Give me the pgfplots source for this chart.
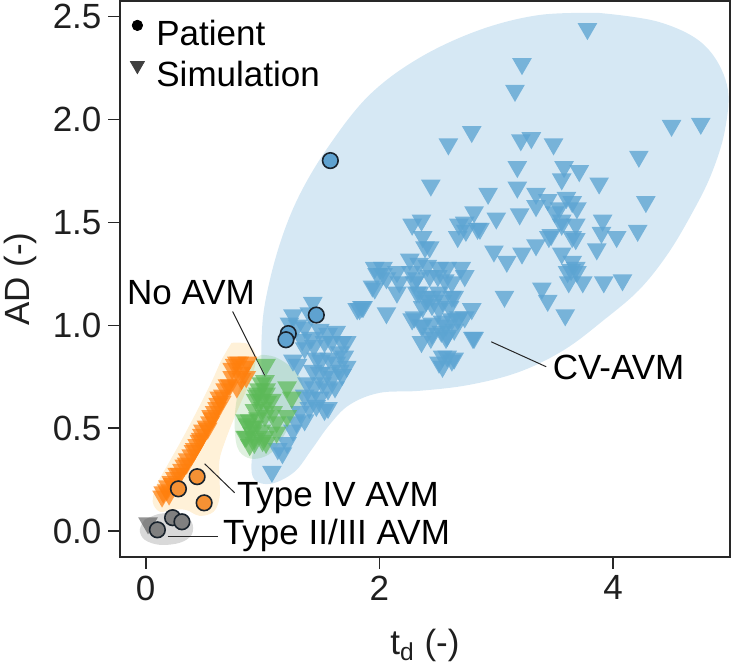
\documentclass[border=0pt]{standalone}
\usepackage{fontspec}
\setmainfont{Liberation Sans}
\usepackage{pgfplots}
\pgfplotsset{compat=1.18}

\definecolor{hullblue}{RGB}{120,180,220}
\definecolor{tri blue}{RGB}{92,164,210}
\definecolor{torange}{RGB}{255,127,14}
\definecolor{tgreen}{RGB}{44,160,44}
\definecolor{tri green}{RGB}{92,186,88}
\definecolor{pblue}{RGB}{95,162,208}
\definecolor{porange}{RGB}{245,145,52}
\definecolor{edge}{RGB}{25,35,45}
\definecolor{axisgray}{RGB}{40,40,40}

\newcommand{\lblfont}{\fontsize{17.5}{20}\selectfont}

\pgfplotsset{
  simtri/.style 2 args={only marks, mark=triangle*, mark size=5.7pt,
    mark options={rotate=180, fill=#1, draw opacity=0, fill opacity=#2}},
  patient/.style={only marks, mark=*, mark size=3.9pt,
    mark options={fill=#1, draw=edge, line width=0.8pt}},
  hull/.style={draw=none, fill=#1, smooth, tension=0.6},
}

\begin{document}
\begin{tikzpicture}
\begin{axis}[
  name=ax, scale only axis, width=305pt, height=278pt,
  xmin=-0.22, xmax=5.0, ymin=-0.125, ymax=2.575,
  xtick={0,2,4}, ytick={0,0.5,1,1.5,2,2.5},
  yticklabel style={/pgf/number format/.cd, fixed, fixed zerofill, precision=1},
  /pgf/number format/assume math mode=true,
  tick label style={font=\lblfont, text=black!88},
  label style={font=\lblfont, text=black!88},
  xlabel={t\textsubscript{d} (-)}, ylabel={AD (-)},
  xlabel style={at={(axis description cs:0.5,-0.176)}, anchor=base},
  ylabel style={at={(axis description cs:-0.164,0.5)}, anchor=center},
  tick align=outside, xtick pos=bottom, ytick pos=left,
  major tick length=5.75pt,
  every tick/.style={line width=0.8pt, axisgray},
  axis line style={line width=0.8pt, axisgray},
  legend style={at={(axis description cs:0,1)}, anchor=north west,
    draw=none, fill=none, inner sep=0pt, font=\lblfont, row sep=2pt,
    nodes={inner sep=1.5pt}, yshift=-6.5pt, xshift=0pt},
  legend cell align=left,
]

% shaded regions
\addplot[hull={hullblue}, fill opacity=0.3, forget plot] coordinates {
  (3.880,2.517) (4.393,2.473) (4.778,2.362) (4.974,2.168) (4.957,1.949)
  (4.838,1.731) (4.667,1.536) (4.462,1.342) (4.222,1.172) (3.923,1.027)
  (3.581,0.881) (3.197,0.774) (2.769,0.711) (2.342,0.682) (2.000,0.672)
  (1.744,0.614) (1.573,0.517) (1.419,0.396) (1.274,0.289) (1.077,0.231)
  (0.932,0.250) (0.906,0.337) (0.957,0.493) (0.991,0.687) (0.991,0.930)
  (1.026,1.124) (1.145,1.391) (1.316,1.633) (1.573,1.876) (1.915,2.119)
  (2.342,2.299) (2.855,2.434) (3.368,2.507) (3.880,2.517)};
\addplot[hull={torange!70!yellow}, fill opacity=0.16, forget plot] coordinates {
  (0.735,0.915) (0.872,0.910) (0.940,0.857) (0.923,0.774) (0.855,0.677)
  (0.769,0.566) (0.684,0.444) (0.632,0.347) (0.632,0.250) (0.632,0.163)
  (0.581,0.095) (0.462,0.075) (0.342,0.104) (0.222,0.104) (0.120,0.095)
  (0.060,0.143) (0.094,0.226) (0.188,0.323) (0.308,0.444) (0.444,0.590)
  (0.564,0.726) (0.650,0.833) (0.735,0.915)};
\addplot[hull={tgreen}, fill opacity=0.15, forget plot] coordinates {
  (0.991,0.857) (1.103,0.847) (1.231,0.803) (1.333,0.735) (1.350,0.653)
  (1.299,0.575) (1.197,0.478) (1.103,0.396) (0.991,0.357) (0.872,0.357)
  (0.786,0.405) (0.761,0.517) (0.778,0.638) (0.829,0.745) (0.906,0.823)
  (0.991,0.857)};
\addplot[hull={gray}, fill opacity=0.3, forget plot] coordinates {
  (-0.009,0.056) (0.120,0.085) (0.291,0.085) (0.393,0.046) (0.393,-0.017)
  (0.291,-0.056) (0.120,-0.066) (-0.009,-0.041) (-0.051,0.007) (-0.009,0.056)};

% simulations
\addplot[simtri={tri blue}{0.78}, forget plot] coordinates {
  (3.78,2.44) (3.22,2.27) (3.16,2.14) (2.79,1.94) (2.59,1.88) (3.21,1.90)
  (3.30,1.91) (3.49,1.88) (3.18,1.77) (2.44,1.68) (2.93,1.64) (3.18,1.67)
  (3.34,1.64) (3.44,1.61) (3.58,1.77) (3.71,1.75) (3.56,1.71) (3.88,1.69)
  (3.60,1.62) (3.54,1.57) (3.69,1.57) (4.50,1.97) (4.75,1.98) (4.22,1.82)
  (4.28,1.60) (3.65,1.60) (3.50,1.55) (3.56,1.51) (3.68,1.49) (3.56,1.49)
  (3.91,1.51) (3.90,1.45) (4.03,1.43) (4.21,1.46) (3.47,1.44) (3.65,1.43)
  (3.68,1.42) (3.86,1.37) (3.56,1.35) (3.65,1.31) (3.68,1.28) (3.64,1.27)
  (3.61,1.26) (3.69,1.26) (3.62,1.21) (3.74,1.21) (3.92,1.21) (4.08,1.22)
  (3.39,1.18) (3.44,1.12) (3.59,1.05)
  (2.81,1.55) (3.00,1.52) (3.20,1.54) (3.34,1.58) (2.68,1.49) (2.74,1.46)
  (2.84,1.47) (2.67,1.43) (2.28,1.49) (2.36,1.51) (2.39,1.38) (2.43,1.38)
  (2.98,1.36) (3.09,1.31) (3.22,1.35) (3.34,1.39) (3.45,1.43) (3.07,1.14)
  (2.80,0.94) (2.54,0.80) (2.62,0.83) (2.86,1.47) (2.73,1.50)
  (1.96,1.28) (2.03,1.28) (2.15,1.26) (2.26,1.32) (2.34,1.30) (2.41,1.29)
  (2.51,1.28) (2.58,1.28) (2.70,1.28) (1.94,1.19) (2.06,1.23) (2.17,1.21)
  (2.32,1.23) (2.43,1.24) (2.56,1.22) (2.73,1.24) (1.83,1.08) (2.06,1.06)
  (2.15,1.16) (2.32,1.16) (2.40,1.14) (2.51,1.16) (2.62,1.14) (2.37,1.09)
  (2.45,1.10) (2.51,1.08) (2.60,1.09) (2.79,1.08) (2.28,1.03) (2.36,1.00)
  (2.45,1.01) (2.57,1.00) (2.67,1.03) (2.73,1.04) (2.36,0.92) (2.44,0.94)
  (2.57,0.94) (2.81,0.94) (2.37,1.43) (1.98,1.25) (2.03,1.25) (1.96,1.18)
  (1.86,1.09) (2.27,1.26) (2.30,1.21) (2.50,1.24) (2.62,1.21) (2.64,1.14)
  (2.34,1.16) (2.40,1.12) (2.45,1.14) (2.54,1.12) (2.30,1.04) (2.37,1.00)
  (2.54,1.02) (2.62,1.03) (2.68,1.04) (2.45,0.96) (2.53,0.97) (2.58,0.95)
  (2.64,0.98) (2.54,0.85) (2.58,0.85) (2.64,0.84) (2.51,0.82)
  (1.43,1.11) (1.40,1.06) (1.26,1.05) (1.23,1.01) (1.30,1.00) (1.36,0.99)
  (1.81,1.08) (1.85,1.09) (1.49,0.98) (1.56,0.96) (1.63,0.97) (1.59,0.92)
  (1.53,0.92) (1.44,0.90) (1.42,0.94) (1.68,0.92) (1.72,0.92) (1.34,0.93)
  (1.36,0.89) (1.26,0.83) (1.30,0.81) (1.46,0.84) (1.50,0.83) (1.57,0.84)
  (1.66,0.87) (1.70,0.85) (1.63,0.82) (1.72,0.80) (1.43,0.78) (1.49,0.77)
  (1.55,0.77) (1.60,0.75) (1.66,0.78) (1.68,0.76) (1.38,0.72) (1.44,0.70)
  (1.51,0.72) (1.56,0.69) (1.62,0.70) (1.36,0.66) (1.42,0.65) (1.49,0.65)
  (1.56,0.60) (1.46,0.61) (1.40,0.60) (1.32,0.58) (1.36,0.54) (1.29,0.53)
  (1.26,0.49) (1.53,0.59) (1.21,0.43) (1.17,0.38) (1.13,0.40) (1.08,0.29)};
\addplot[simtri={torange}{0.72}, forget plot] coordinates {
  (0.76,0.81) (0.80,0.82) (0.85,0.80) (0.87,0.82) (0.82,0.77) (0.86,0.75)
  (0.74,0.75) (0.72,0.71) (0.78,0.70) (0.68,0.69) (0.63,0.65) (0.65,0.63)
  (0.61,0.60) (0.59,0.58) (0.56,0.56) (0.55,0.53) (0.52,0.51) (0.49,0.49)
  (0.48,0.47) (0.46,0.44) (0.44,0.42) (0.42,0.40) (0.39,0.37) (0.36,0.35)
  (0.33,0.32) (0.31,0.30) (0.27,0.28) (0.25,0.26) (0.22,0.24) (0.19,0.22)
  (0.18,0.20) (0.15,0.19) (0.14,0.17) (0.82,0.74) (0.62,0.62) (0.57,0.55)
  (0.53,0.50) (0.47,0.45) (0.41,0.39) (0.35,0.33) (0.29,0.28) (0.23,0.23)
  (0.20,0.18) (0.70,0.71) (0.66,0.66) (0.74,0.79) (0.78,0.82)};
\addplot[simtri={tri green}{0.7}, forget plot] coordinates {
  (1.03,0.81) (1.02,0.73) (0.97,0.69) (0.95,0.66) (1.03,0.67) (0.99,0.64)
  (1.04,0.63) (1.00,0.60) (0.93,0.59) (0.96,0.55) (1.02,0.56) (1.09,0.58)
  (0.89,0.54) (0.87,0.52) (0.93,0.51) (0.99,0.49) (0.91,0.48) (0.86,0.46)
  (0.93,0.45) (1.00,0.44) (0.89,0.42) (1.12,0.53) (1.21,0.70) (1.25,0.65)
  (1.21,0.56) (1.12,0.48) (1.03,0.43) (0.99,0.72) (1.03,0.69) (1.08,0.64)
  (0.96,0.67) (0.94,0.64) (0.85,0.54) (0.91,0.51) (0.85,0.46) (0.93,0.43)
  (1.02,0.46)};
\addplot[simtri={black!70}{0.6}, forget plot] coordinates {(0.02,0.04)};

% patients
\addplot[patient={pblue}, forget plot] coordinates {
  (1.58,1.80) (1.46,1.05) (1.22,0.96) (1.20,0.93)};
\addplot[patient={porange}, forget plot] coordinates {
  (0.44,0.265) (0.28,0.206) (0.50,0.138)};
\addplot[patient={gray}, forget plot] coordinates {
  (0.10,0.007) (0.23,0.066) (0.31,0.046)};

% legend
\addlegendimage{only marks, mark=*, mark size=2.6pt, black,
  legend image code/.code={\path[draw=none, fill=none] (0pt,-2pt) rectangle (16.5pt,10pt);
    \draw[only marks] plot coordinates {(8.5pt,4.5pt)};}}
\addlegendentry{Patient}
\addlegendimage{only marks, mark=triangle*, mark size=4pt,
  mark options={rotate=180}, black!75,
  legend image code/.code={\path[draw=none, fill=none] (0pt,-2pt) rectangle (16.5pt,10pt);
    \draw[only marks] plot coordinates {(8.5pt,5pt)};}}
\addlegendentry{Simulation}

% annotations
\draw[black!85, line width=0.5pt] (axis cs:0.744,1.067) -- (axis cs:1.023,0.751);
\draw[black!85, line width=0.5pt] (axis cs:0.504,0.328) -- (axis cs:0.761,0.187);
\draw[black!85, line width=0.5pt] (axis cs:0.188,-0.027) -- (axis cs:0.615,-0.027);
\draw[black!85, line width=0.5pt] (axis cs:2.957,0.920) -- (axis cs:3.427,0.799);
\node[anchor=base west, inner sep=0pt, font=\lblfont] at (axis cs:-0.162,1.10) {No AVM};
\node[anchor=base west, inner sep=0pt, font=\lblfont] at (axis cs:0.778,0.119) {Type IV AVM};
\node[anchor=base west, inner sep=0pt, font=\lblfont] at (axis cs:0.658,-0.066) {Type II/III AVM};
\node[anchor=base west, inner sep=0pt, font=\lblfont] at (axis cs:3.48,0.735) {CV-AVM};
\end{axis}
\pgfresetboundingbox
\path (ax.south west) ++(-60pt,-53.5pt) rectangle ++(366.5pt,332pt);
\end{tikzpicture}
\end{document}
